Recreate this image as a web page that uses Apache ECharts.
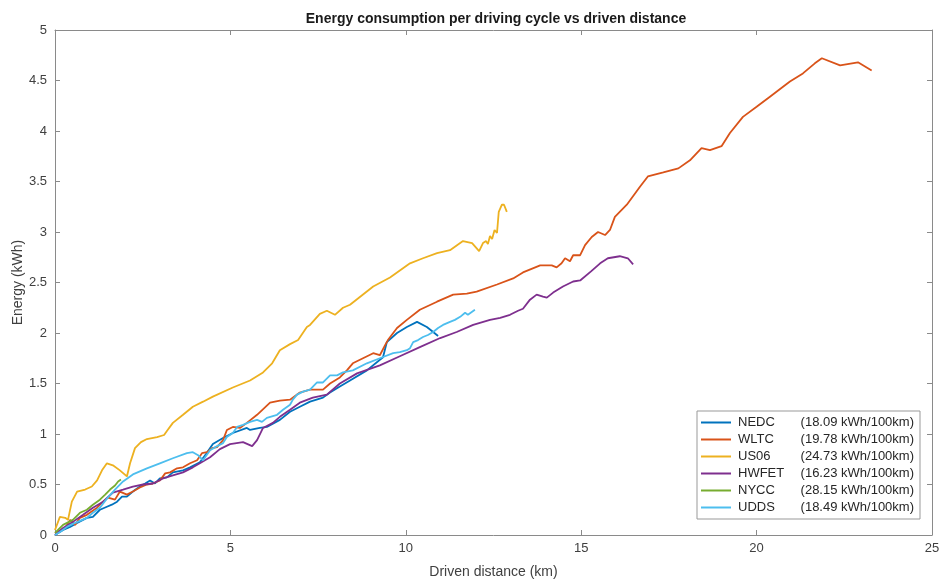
<!DOCTYPE html>
<html>
<head>
<meta charset="utf-8">
<title>Energy consumption per driving cycle</title>
<script src="https://cdn.jsdelivr.net/npm/echarts@6/dist/echarts.min.js"></script>
<style>
  html, body { margin: 0; padding: 0; background: #ffffff; }
  #chart { width: 941px; height: 581px; }
</style>
</head>
<body>
<div id="chart"></div>
<script>
// Cumulative energy [driven distance (km), energy (kWh)] for each driving cycle
const nedcPoints = [
  [0, 0], [0.23, 0.05], [0.43, 0.08], [0.63, 0.12], [0.91, 0.17], [1.08, 0.18], [1.28, 0.25],
  [1.48, 0.28], [1.62, 0.3], [1.77, 0.33], [1.91, 0.38], [2.05, 0.38], [2.22, 0.43], [2.42, 0.48],
  [2.57, 0.51], [2.71, 0.54], [2.85, 0.51], [2.99, 0.56], [3.19, 0.57], [3.36, 0.62], [3.65, 0.64],
  [3.85, 0.67], [4.13, 0.72], [4.3, 0.8], [4.5, 0.9], [4.79, 0.96], [5.07, 1.01], [5.47, 1.06],
  [5.56, 1.04], [5.84, 1.06], [6.04, 1.07], [6.41, 1.14], [6.7, 1.22], [6.98, 1.27], [7.27, 1.32],
  [7.64, 1.36], [7.84, 1.41], [8.12, 1.47], [8.41, 1.53], [8.89, 1.63], [9.35, 1.76], [9.46, 1.91],
  [9.75, 2.0], [10.03, 2.06], [10.32, 2.11], [10.6, 2.06], [10.78, 2.01], [10.92, 1.97]
];
const wltcPoints = [
  [0, 0.02], [0.29, 0.07], [0.43, 0.15], [0.57, 0.1], [0.71, 0.17], [0.91, 0.2], [1.2, 0.27],
  [1.37, 0.33], [1.51, 0.37], [1.71, 0.35], [1.85, 0.43], [2.05, 0.4], [2.22, 0.43], [2.42, 0.47],
  [2.62, 0.5], [2.79, 0.51], [2.99, 0.54], [3.14, 0.61], [3.28, 0.62], [3.48, 0.66], [3.65, 0.67],
  [3.85, 0.71], [4.05, 0.74], [4.19, 0.81], [4.33, 0.82], [4.48, 0.86], [4.62, 0.87], [4.79, 0.94],
  [4.9, 1.04], [5.07, 1.07], [5.27, 1.06], [5.47, 1.11], [5.76, 1.19], [6.13, 1.31], [6.41, 1.33],
  [6.7, 1.34], [6.98, 1.41], [7.27, 1.44], [7.64, 1.44], [7.84, 1.5], [8.12, 1.56], [8.32, 1.63],
  [8.49, 1.7], [8.78, 1.75], [9.07, 1.8], [9.26, 1.78], [9.41, 1.88], [9.49, 1.93], [9.75, 2.05],
  [10.03, 2.13], [10.4, 2.23], [10.89, 2.31], [11.35, 2.38], [11.74, 2.39], [12.02, 2.41],
  [12.6, 2.48], [13.06, 2.54], [13.34, 2.6], [13.83, 2.67], [14.16, 2.67], [14.3, 2.65],
  [14.44, 2.69], [14.54, 2.74], [14.68, 2.71], [14.77, 2.77], [14.97, 2.77], [15.11, 2.87],
  [15.3, 2.95], [15.48, 3.0], [15.68, 2.97], [15.82, 3.02], [15.96, 3.15], [16.3, 3.27],
  [16.68, 3.45], [16.9, 3.55], [17.34, 3.59], [17.77, 3.63], [18.1, 3.71], [18.43, 3.83],
  [18.67, 3.81], [19.0, 3.85], [19.24, 3.98], [19.61, 4.14], [20.0, 4.24], [20.38, 4.34],
  [20.95, 4.49], [21.32, 4.57], [21.66, 4.67], [21.86, 4.72], [22.38, 4.65], [22.89, 4.68],
  [23.28, 4.6]
];
const us06Points = [
  [0, 0.05], [0.14, 0.18], [0.29, 0.17], [0.37, 0.15], [0.48, 0.33], [0.63, 0.43], [0.86, 0.45],
  [1.05, 0.48], [1.2, 0.54], [1.34, 0.64], [1.48, 0.71], [1.65, 0.69], [1.85, 0.64], [2.05, 0.58],
  [2.14, 0.71], [2.28, 0.86], [2.45, 0.92], [2.62, 0.95], [2.91, 0.97], [3.11, 0.99], [3.19, 1.03],
  [3.36, 1.11], [3.65, 1.19], [3.93, 1.27], [4.22, 1.32], [4.5, 1.37], [5.07, 1.46], [5.56, 1.53],
  [5.93, 1.61], [6.19, 1.7], [6.41, 1.83], [6.7, 1.89], [6.93, 1.93], [7.18, 2.06], [7.27, 2.08],
  [7.55, 2.19], [7.75, 2.22], [7.98, 2.18], [8.21, 2.25], [8.41, 2.28], [9.07, 2.46], [9.55, 2.55],
  [10.12, 2.69], [10.49, 2.74], [10.89, 2.79], [11.26, 2.82], [11.63, 2.91], [11.89, 2.89],
  [12.09, 2.81], [12.2, 2.89], [12.29, 2.91], [12.34, 2.88], [12.4, 2.96], [12.46, 2.93],
  [12.53, 3.02], [12.6, 2.99], [12.65, 3.2], [12.74, 3.27], [12.8, 3.27], [12.88, 3.2]
];
const hwfetPoints = [
  [0, 0], [0.23, 0.07], [0.51, 0.13], [0.8, 0.2], [1.08, 0.27], [1.37, 0.33], [1.65, 0.42],
  [1.94, 0.45], [2.22, 0.48], [2.51, 0.5], [2.79, 0.51], [3.08, 0.56], [3.36, 0.59], [3.65, 0.62],
  [3.93, 0.67], [4.13, 0.71], [4.42, 0.77], [4.7, 0.85], [4.99, 0.9], [5.36, 0.92], [5.62, 0.88],
  [5.76, 0.94], [5.93, 1.06], [6.21, 1.11], [6.41, 1.17], [6.7, 1.24], [6.98, 1.31], [7.35, 1.36],
  [7.75, 1.39], [8.12, 1.5], [8.61, 1.6], [9.26, 1.68], [9.83, 1.77], [10.4, 1.86], [10.98, 1.95],
  [11.45, 2.01], [11.92, 2.08], [12.4, 2.13], [12.69, 2.15], [12.97, 2.18], [13.2, 2.22],
  [13.34, 2.24], [13.54, 2.33], [13.73, 2.38], [13.91, 2.36], [14.02, 2.35], [14.2, 2.4],
  [14.48, 2.46], [14.77, 2.51], [14.97, 2.52], [15.28, 2.61], [15.54, 2.69], [15.76, 2.74],
  [16.1, 2.76], [16.33, 2.74], [16.48, 2.68]
];
const nyccPoints = [
  [0, 0.02], [0.23, 0.1], [0.51, 0.15], [0.71, 0.22], [0.91, 0.25], [1.08, 0.3], [1.28, 0.35],
  [1.43, 0.4], [1.57, 0.45], [1.71, 0.49], [1.8, 0.53], [1.88, 0.55]
];
const uddsPoints = [
  [0, 0], [0.14, 0.03], [0.34, 0.08], [0.51, 0.11], [0.71, 0.14], [0.91, 0.17], [1.08, 0.22],
  [1.28, 0.27], [1.48, 0.36], [1.71, 0.45], [1.94, 0.53], [2.22, 0.6], [2.62, 0.66], [2.99, 0.71],
  [3.36, 0.76], [3.76, 0.81], [3.93, 0.82], [4.08, 0.79], [4.22, 0.74], [4.42, 0.84], [4.62, 0.88],
  [4.79, 0.91], [4.9, 0.97], [5.07, 1.01], [5.19, 1.07], [5.36, 1.09], [5.56, 1.12], [5.76, 1.14],
  [5.9, 1.12], [6.04, 1.16], [6.33, 1.19], [6.5, 1.24], [6.7, 1.29], [6.78, 1.34], [6.9, 1.39],
  [7.07, 1.42], [7.27, 1.44], [7.47, 1.51], [7.64, 1.51], [7.84, 1.58], [8.04, 1.58], [8.21, 1.61],
  [8.49, 1.63], [8.89, 1.7], [9.26, 1.75], [9.64, 1.8], [9.83, 1.81], [10.03, 1.83], [10.12, 1.85],
  [10.21, 1.91], [10.35, 1.93], [10.49, 1.96], [10.63, 1.98], [10.78, 2.01], [10.92, 2.05],
  [11.06, 2.08], [11.26, 2.11], [11.4, 2.13], [11.55, 2.16], [11.69, 2.2], [11.77, 2.18],
  [11.89, 2.21], [11.97, 2.23]
];

const cycleNames = ['NEDC', 'WLTC', 'US06', 'HWFET', 'NYCC', 'UDDS'];
const consumptionLabels = ['18.09', '19.78', '24.73', '16.23', '28.15', '18.49'];
const cycleColors = ['#0072BD', '#D95319', '#EDB120', '#7E2F8E', '#77AC30', '#4DBEEE'];
const cycleData = [nedcPoints, wltcPoints, us06Points, hwfetPoints, nyccPoints, uddsPoints];

const FONT = '"Liberation Sans", Arial, Helvetica, sans-serif';
const AXIS_COLOR = '#8a8a8a';
const LABEL_COLOR = '#404040';

const chart = echarts.init(document.getElementById('chart'));

const series = cycleNames.map((name, i) => ({
  name: name,
  type: 'line',
  data: cycleData[i],
  showSymbol: false,
  symbol: 'none',
  smooth: false,
  lineStyle: { width: 1.8, color: cycleColors[i] },
  itemStyle: { color: cycleColors[i] },
  emphasis: { disabled: true },
  xAxisIndex: 0,
  yAxisIndex: 0,
  z: 2
}));

const consumptionByName = {};
cycleNames.forEach((n, i) => { consumptionByName[n] = consumptionLabels[i]; });

const baseAxis = {
  axisLine: { show: true, onZero: false, lineStyle: { color: AXIS_COLOR, width: 1 } },
  axisTick: { show: true, inside: true, length: 5, lineStyle: { color: AXIS_COLOR } },
  splitLine: { show: false }
};

chart.setOption({
  animation: false,
  backgroundColor: '#ffffff',
  title: {
    text: 'Energy consumption per driving cycle vs driven distance',
    left: 491,
    textAlign: 'center',
    top: 7,
    textStyle: { fontFamily: FONT, fontSize: 14, fontWeight: 'bold', color: '#1a1a1a' }
  },
  grid: { left: 55, right: 9, top: 30, bottom: 46, containLabel: false, outerBoundsMode: 'none' },
  legend: {
    data: cycleNames,
    orient: 'vertical',
    right: 21,
    bottom: 62,
    padding: [5, 6, 5, 4],
    itemGap: 4,
    itemWidth: 30,
    itemHeight: 2,
    icon: 'rect',
    backgroundColor: '#ffffff',
    borderColor: '#999999',
    borderWidth: 1,
    borderRadius: 0,
    selectedMode: false,
    textStyle: {
      fontFamily: FONT,
      fontSize: 13,
      color: '#262626',
      rich: {
        name: { fontFamily: FONT, fontSize: 13, color: '#262626', width: 58, padding: [0, 0, 0, 2] },
        val: { fontFamily: FONT, fontSize: 13, color: '#262626', width: 118, align: 'right' }
      }
    },
    formatter: name => '{name|' + name + '}{val|(' + consumptionByName[name] + ' kWh/100km)}'
  },
  xAxis: [
    Object.assign({}, baseAxis, {
      type: 'value',
      position: 'bottom',
      min: 0, max: 25, interval: 5,
      name: 'Driven distance (km)',
      nameLocation: 'middle',
      nameGap: 30,
      nameMoveOverlap: false,
      nameTextStyle: { fontFamily: FONT, fontSize: 14, color: LABEL_COLOR },
      axisLabel: { fontFamily: FONT, fontSize: 13, color: LABEL_COLOR, margin: 7 }
    }),
    Object.assign({}, baseAxis, {
      type: 'value',
      position: 'top',
      min: 0, max: 25, interval: 5,
      axisLabel: { show: false }
    })
  ],
  yAxis: [
    Object.assign({}, baseAxis, {
      type: 'value',
      position: 'left',
      min: 0, max: 5, interval: 0.5,
      name: 'Energy (kWh)',
      nameLocation: 'middle',
      nameGap: 30,
      nameRotate: 90,
      nameMoveOverlap: false,
      nameTextStyle: { fontFamily: FONT, fontSize: 14, color: LABEL_COLOR },
      axisLabel: { fontFamily: FONT, fontSize: 13, color: LABEL_COLOR, margin: 8 }
    }),
    Object.assign({}, baseAxis, {
      type: 'value',
      position: 'right',
      min: 0, max: 5, interval: 0.5,
      axisLabel: { show: false }
    })
  ],
  series: series
});
</script>
</body>
</html>
